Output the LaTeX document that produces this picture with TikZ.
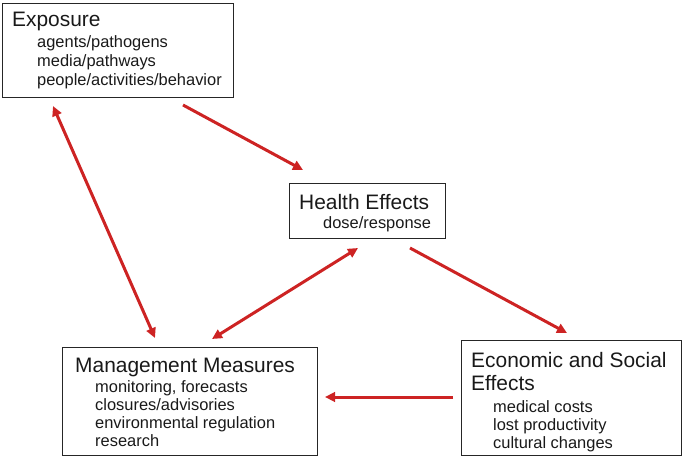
\documentclass[tikz,border=0pt]{standalone}
\usepackage{fontspec}
\setmainfont{Liberation Sans}
\usetikzlibrary{arrows.meta}
\definecolor{arrowred}{RGB}{205,35,35}
\tikzset{
  box/.style={draw=black!85, line width=1.1bp, rectangle, inner sep=0pt, anchor=north west},
  ttl/.style={anchor=base west, inner sep=0pt, font=\fontsize{21}{24}\selectfont, text=black!90},
  sub/.style={anchor=base west, inner sep=0pt, font=\fontsize{16.5}{19}\selectfont, text=black!90},
  link/.style={draw=arrowred, line width=3bp, -{Triangle[length=10bp,width=9.5bp]}},
  link2/.style={draw=arrowred, line width=3bp, {Triangle[length=10bp,width=9.5bp]}-{Triangle[length=10bp,width=9.5bp]}}
}
\begin{document}
\begin{tikzpicture}[x=1bp,y=-1bp]
\useasboundingbox (0,0) rectangle (685,464);
% boxes
\node[box, minimum width=231bp, minimum height=94bp] (expo) at (2,3) {};
\node[box, minimum width=156bp, minimum height=55bp] (health) at (289,183) {};
\node[box, minimum width=220bp, minimum height=115bp] (econ) at (461,340) {};
\node[box, minimum width=255bp, minimum height=108bp] (mgmt) at (62,347) {};
% Exposure text
\node[ttl] (expoT) at (12,27) {Exposure};
\node[sub] (expo1) at (37,48) {agents/pathogens};
\node[sub] (expo2) at (37,67) {media/pathways};
\node[sub] (expo3) at (37,86) {people/activities/behavior};
% Health text
\node[ttl] (healthT) at (299,210) {Health Effects};
\node[sub] (health1) at (323,229) {dose/response};
% Economic text
\node[ttl] (econT) at (471,367) {Economic and Social};
\node[ttl] (econT2) at (471,390) {Effects};
\node[sub] (econ1) at (493,412) {medical costs};
\node[sub] (econ2) at (493,430) {lost productivity};
\node[sub] (econ3) at (493,448) {cultural changes};
% Management text
\node[ttl] (mgmtT) at (75,372) {Management Measures};
\node[sub] (mgmt1) at (95,392) {monitoring, forecasts};
\node[sub] (mgmt2) at (95,410) {closures/advisories};
\node[sub] (mgmt3) at (95,428) {environmental regulation};
\node[sub] (mgmt4) at (95,446) {research};
% connector end points
\coordinate (a1s) at (183,105);
\coordinate (a1e) at (303,170);
\coordinate (a2s) at (358,248);
\coordinate (a2e) at (212,339);
\coordinate (a3s) at (410,248);
\coordinate (a3e) at (567,333);
\coordinate (a4s) at (453,397);
\coordinate (a4e) at (325,397);
\coordinate (a5s) at (53,106);
\coordinate (a5e) at (155,338);
% connectors
\draw[link] (a1s) -- (a1e);
\draw[link2] (a2s) -- (a2e);
\draw[link] (a3s) -- (a3e);
\draw[link] (a4s) -- (a4e);
\draw[link2] (a5s) -- (a5e);
\end{tikzpicture}
\end{document}
